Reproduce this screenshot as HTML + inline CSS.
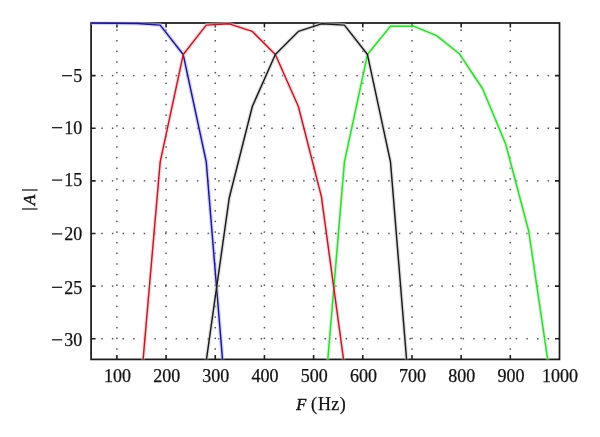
<!DOCTYPE html>
<html><head><meta charset="utf-8"><style>
html,body{margin:0;padding:0;background:#fff;}
svg{display:block;will-change:transform;}
text{font-family:"Liberation Serif",serif;font-size:18px;fill:#111;stroke:#111;stroke-width:0.25px;}
</style></head><body>
<svg width="600" height="437" viewBox="0 0 600 437">
<rect width="600" height="437" fill="#fff"/>
<g fill="#555"><rect x="116.15" y="348.22" width="1.5" height="1.5"/><rect x="116.15" y="337.59" width="1.5" height="1.5"/><rect x="116.15" y="326.97" width="1.5" height="1.5"/><rect x="116.15" y="316.34" width="1.5" height="1.5"/><rect x="116.15" y="305.71" width="1.5" height="1.5"/><rect x="116.15" y="295.08" width="1.5" height="1.5"/><rect x="116.15" y="284.45" width="1.5" height="1.5"/><rect x="116.15" y="273.83" width="1.5" height="1.5"/><rect x="116.15" y="263.20" width="1.5" height="1.5"/><rect x="116.15" y="252.57" width="1.5" height="1.5"/><rect x="116.15" y="241.94" width="1.5" height="1.5"/><rect x="116.15" y="231.31" width="1.5" height="1.5"/><rect x="116.15" y="220.69" width="1.5" height="1.5"/><rect x="116.15" y="210.06" width="1.5" height="1.5"/><rect x="116.15" y="199.43" width="1.5" height="1.5"/><rect x="116.15" y="188.80" width="1.5" height="1.5"/><rect x="116.15" y="178.17" width="1.5" height="1.5"/><rect x="116.15" y="167.55" width="1.5" height="1.5"/><rect x="116.15" y="156.92" width="1.5" height="1.5"/><rect x="116.15" y="146.29" width="1.5" height="1.5"/><rect x="116.15" y="135.66" width="1.5" height="1.5"/><rect x="116.15" y="125.03" width="1.5" height="1.5"/><rect x="116.15" y="114.41" width="1.5" height="1.5"/><rect x="116.15" y="103.78" width="1.5" height="1.5"/><rect x="116.15" y="93.15" width="1.5" height="1.5"/><rect x="116.15" y="82.52" width="1.5" height="1.5"/><rect x="116.15" y="71.89" width="1.5" height="1.5"/><rect x="116.15" y="61.27" width="1.5" height="1.5"/><rect x="116.15" y="50.64" width="1.5" height="1.5"/><rect x="116.15" y="40.01" width="1.5" height="1.5"/><rect x="116.15" y="29.38" width="1.5" height="1.5"/><rect x="165.33" y="348.22" width="1.5" height="1.5"/><rect x="165.33" y="337.59" width="1.5" height="1.5"/><rect x="165.33" y="326.97" width="1.5" height="1.5"/><rect x="165.33" y="316.34" width="1.5" height="1.5"/><rect x="165.33" y="305.71" width="1.5" height="1.5"/><rect x="165.33" y="295.08" width="1.5" height="1.5"/><rect x="165.33" y="284.45" width="1.5" height="1.5"/><rect x="165.33" y="273.83" width="1.5" height="1.5"/><rect x="165.33" y="263.20" width="1.5" height="1.5"/><rect x="165.33" y="252.57" width="1.5" height="1.5"/><rect x="165.33" y="241.94" width="1.5" height="1.5"/><rect x="165.33" y="231.31" width="1.5" height="1.5"/><rect x="165.33" y="220.69" width="1.5" height="1.5"/><rect x="165.33" y="210.06" width="1.5" height="1.5"/><rect x="165.33" y="199.43" width="1.5" height="1.5"/><rect x="165.33" y="188.80" width="1.5" height="1.5"/><rect x="165.33" y="178.17" width="1.5" height="1.5"/><rect x="165.33" y="167.55" width="1.5" height="1.5"/><rect x="165.33" y="156.92" width="1.5" height="1.5"/><rect x="165.33" y="146.29" width="1.5" height="1.5"/><rect x="165.33" y="135.66" width="1.5" height="1.5"/><rect x="165.33" y="125.03" width="1.5" height="1.5"/><rect x="165.33" y="114.41" width="1.5" height="1.5"/><rect x="165.33" y="103.78" width="1.5" height="1.5"/><rect x="165.33" y="93.15" width="1.5" height="1.5"/><rect x="165.33" y="82.52" width="1.5" height="1.5"/><rect x="165.33" y="71.89" width="1.5" height="1.5"/><rect x="165.33" y="61.27" width="1.5" height="1.5"/><rect x="165.33" y="50.64" width="1.5" height="1.5"/><rect x="165.33" y="40.01" width="1.5" height="1.5"/><rect x="165.33" y="29.38" width="1.5" height="1.5"/><rect x="214.51" y="348.22" width="1.5" height="1.5"/><rect x="214.51" y="337.59" width="1.5" height="1.5"/><rect x="214.51" y="326.97" width="1.5" height="1.5"/><rect x="214.51" y="316.34" width="1.5" height="1.5"/><rect x="214.51" y="305.71" width="1.5" height="1.5"/><rect x="214.51" y="295.08" width="1.5" height="1.5"/><rect x="214.51" y="284.45" width="1.5" height="1.5"/><rect x="214.51" y="273.83" width="1.5" height="1.5"/><rect x="214.51" y="263.20" width="1.5" height="1.5"/><rect x="214.51" y="252.57" width="1.5" height="1.5"/><rect x="214.51" y="241.94" width="1.5" height="1.5"/><rect x="214.51" y="231.31" width="1.5" height="1.5"/><rect x="214.51" y="220.69" width="1.5" height="1.5"/><rect x="214.51" y="210.06" width="1.5" height="1.5"/><rect x="214.51" y="199.43" width="1.5" height="1.5"/><rect x="214.51" y="188.80" width="1.5" height="1.5"/><rect x="214.51" y="178.17" width="1.5" height="1.5"/><rect x="214.51" y="167.55" width="1.5" height="1.5"/><rect x="214.51" y="156.92" width="1.5" height="1.5"/><rect x="214.51" y="146.29" width="1.5" height="1.5"/><rect x="214.51" y="135.66" width="1.5" height="1.5"/><rect x="214.51" y="125.03" width="1.5" height="1.5"/><rect x="214.51" y="114.41" width="1.5" height="1.5"/><rect x="214.51" y="103.78" width="1.5" height="1.5"/><rect x="214.51" y="93.15" width="1.5" height="1.5"/><rect x="214.51" y="82.52" width="1.5" height="1.5"/><rect x="214.51" y="71.89" width="1.5" height="1.5"/><rect x="214.51" y="61.27" width="1.5" height="1.5"/><rect x="214.51" y="50.64" width="1.5" height="1.5"/><rect x="214.51" y="40.01" width="1.5" height="1.5"/><rect x="214.51" y="29.38" width="1.5" height="1.5"/><rect x="263.68" y="348.22" width="1.5" height="1.5"/><rect x="263.68" y="337.59" width="1.5" height="1.5"/><rect x="263.68" y="326.97" width="1.5" height="1.5"/><rect x="263.68" y="316.34" width="1.5" height="1.5"/><rect x="263.68" y="305.71" width="1.5" height="1.5"/><rect x="263.68" y="295.08" width="1.5" height="1.5"/><rect x="263.68" y="284.45" width="1.5" height="1.5"/><rect x="263.68" y="273.83" width="1.5" height="1.5"/><rect x="263.68" y="263.20" width="1.5" height="1.5"/><rect x="263.68" y="252.57" width="1.5" height="1.5"/><rect x="263.68" y="241.94" width="1.5" height="1.5"/><rect x="263.68" y="231.31" width="1.5" height="1.5"/><rect x="263.68" y="220.69" width="1.5" height="1.5"/><rect x="263.68" y="210.06" width="1.5" height="1.5"/><rect x="263.68" y="199.43" width="1.5" height="1.5"/><rect x="263.68" y="188.80" width="1.5" height="1.5"/><rect x="263.68" y="178.17" width="1.5" height="1.5"/><rect x="263.68" y="167.55" width="1.5" height="1.5"/><rect x="263.68" y="156.92" width="1.5" height="1.5"/><rect x="263.68" y="146.29" width="1.5" height="1.5"/><rect x="263.68" y="135.66" width="1.5" height="1.5"/><rect x="263.68" y="125.03" width="1.5" height="1.5"/><rect x="263.68" y="114.41" width="1.5" height="1.5"/><rect x="263.68" y="103.78" width="1.5" height="1.5"/><rect x="263.68" y="93.15" width="1.5" height="1.5"/><rect x="263.68" y="82.52" width="1.5" height="1.5"/><rect x="263.68" y="71.89" width="1.5" height="1.5"/><rect x="263.68" y="61.27" width="1.5" height="1.5"/><rect x="263.68" y="50.64" width="1.5" height="1.5"/><rect x="263.68" y="40.01" width="1.5" height="1.5"/><rect x="263.68" y="29.38" width="1.5" height="1.5"/><rect x="312.86" y="348.22" width="1.5" height="1.5"/><rect x="312.86" y="337.59" width="1.5" height="1.5"/><rect x="312.86" y="326.97" width="1.5" height="1.5"/><rect x="312.86" y="316.34" width="1.5" height="1.5"/><rect x="312.86" y="305.71" width="1.5" height="1.5"/><rect x="312.86" y="295.08" width="1.5" height="1.5"/><rect x="312.86" y="284.45" width="1.5" height="1.5"/><rect x="312.86" y="273.83" width="1.5" height="1.5"/><rect x="312.86" y="263.20" width="1.5" height="1.5"/><rect x="312.86" y="252.57" width="1.5" height="1.5"/><rect x="312.86" y="241.94" width="1.5" height="1.5"/><rect x="312.86" y="231.31" width="1.5" height="1.5"/><rect x="312.86" y="220.69" width="1.5" height="1.5"/><rect x="312.86" y="210.06" width="1.5" height="1.5"/><rect x="312.86" y="199.43" width="1.5" height="1.5"/><rect x="312.86" y="188.80" width="1.5" height="1.5"/><rect x="312.86" y="178.17" width="1.5" height="1.5"/><rect x="312.86" y="167.55" width="1.5" height="1.5"/><rect x="312.86" y="156.92" width="1.5" height="1.5"/><rect x="312.86" y="146.29" width="1.5" height="1.5"/><rect x="312.86" y="135.66" width="1.5" height="1.5"/><rect x="312.86" y="125.03" width="1.5" height="1.5"/><rect x="312.86" y="114.41" width="1.5" height="1.5"/><rect x="312.86" y="103.78" width="1.5" height="1.5"/><rect x="312.86" y="93.15" width="1.5" height="1.5"/><rect x="312.86" y="82.52" width="1.5" height="1.5"/><rect x="312.86" y="71.89" width="1.5" height="1.5"/><rect x="312.86" y="61.27" width="1.5" height="1.5"/><rect x="312.86" y="50.64" width="1.5" height="1.5"/><rect x="312.86" y="40.01" width="1.5" height="1.5"/><rect x="312.86" y="29.38" width="1.5" height="1.5"/><rect x="362.04" y="348.22" width="1.5" height="1.5"/><rect x="362.04" y="337.59" width="1.5" height="1.5"/><rect x="362.04" y="326.97" width="1.5" height="1.5"/><rect x="362.04" y="316.34" width="1.5" height="1.5"/><rect x="362.04" y="305.71" width="1.5" height="1.5"/><rect x="362.04" y="295.08" width="1.5" height="1.5"/><rect x="362.04" y="284.45" width="1.5" height="1.5"/><rect x="362.04" y="273.83" width="1.5" height="1.5"/><rect x="362.04" y="263.20" width="1.5" height="1.5"/><rect x="362.04" y="252.57" width="1.5" height="1.5"/><rect x="362.04" y="241.94" width="1.5" height="1.5"/><rect x="362.04" y="231.31" width="1.5" height="1.5"/><rect x="362.04" y="220.69" width="1.5" height="1.5"/><rect x="362.04" y="210.06" width="1.5" height="1.5"/><rect x="362.04" y="199.43" width="1.5" height="1.5"/><rect x="362.04" y="188.80" width="1.5" height="1.5"/><rect x="362.04" y="178.17" width="1.5" height="1.5"/><rect x="362.04" y="167.55" width="1.5" height="1.5"/><rect x="362.04" y="156.92" width="1.5" height="1.5"/><rect x="362.04" y="146.29" width="1.5" height="1.5"/><rect x="362.04" y="135.66" width="1.5" height="1.5"/><rect x="362.04" y="125.03" width="1.5" height="1.5"/><rect x="362.04" y="114.41" width="1.5" height="1.5"/><rect x="362.04" y="103.78" width="1.5" height="1.5"/><rect x="362.04" y="93.15" width="1.5" height="1.5"/><rect x="362.04" y="82.52" width="1.5" height="1.5"/><rect x="362.04" y="71.89" width="1.5" height="1.5"/><rect x="362.04" y="61.27" width="1.5" height="1.5"/><rect x="362.04" y="50.64" width="1.5" height="1.5"/><rect x="362.04" y="40.01" width="1.5" height="1.5"/><rect x="362.04" y="29.38" width="1.5" height="1.5"/><rect x="411.22" y="348.22" width="1.5" height="1.5"/><rect x="411.22" y="337.59" width="1.5" height="1.5"/><rect x="411.22" y="326.97" width="1.5" height="1.5"/><rect x="411.22" y="316.34" width="1.5" height="1.5"/><rect x="411.22" y="305.71" width="1.5" height="1.5"/><rect x="411.22" y="295.08" width="1.5" height="1.5"/><rect x="411.22" y="284.45" width="1.5" height="1.5"/><rect x="411.22" y="273.83" width="1.5" height="1.5"/><rect x="411.22" y="263.20" width="1.5" height="1.5"/><rect x="411.22" y="252.57" width="1.5" height="1.5"/><rect x="411.22" y="241.94" width="1.5" height="1.5"/><rect x="411.22" y="231.31" width="1.5" height="1.5"/><rect x="411.22" y="220.69" width="1.5" height="1.5"/><rect x="411.22" y="210.06" width="1.5" height="1.5"/><rect x="411.22" y="199.43" width="1.5" height="1.5"/><rect x="411.22" y="188.80" width="1.5" height="1.5"/><rect x="411.22" y="178.17" width="1.5" height="1.5"/><rect x="411.22" y="167.55" width="1.5" height="1.5"/><rect x="411.22" y="156.92" width="1.5" height="1.5"/><rect x="411.22" y="146.29" width="1.5" height="1.5"/><rect x="411.22" y="135.66" width="1.5" height="1.5"/><rect x="411.22" y="125.03" width="1.5" height="1.5"/><rect x="411.22" y="114.41" width="1.5" height="1.5"/><rect x="411.22" y="103.78" width="1.5" height="1.5"/><rect x="411.22" y="93.15" width="1.5" height="1.5"/><rect x="411.22" y="82.52" width="1.5" height="1.5"/><rect x="411.22" y="71.89" width="1.5" height="1.5"/><rect x="411.22" y="61.27" width="1.5" height="1.5"/><rect x="411.22" y="50.64" width="1.5" height="1.5"/><rect x="411.22" y="40.01" width="1.5" height="1.5"/><rect x="411.22" y="29.38" width="1.5" height="1.5"/><rect x="460.39" y="348.22" width="1.5" height="1.5"/><rect x="460.39" y="337.59" width="1.5" height="1.5"/><rect x="460.39" y="326.97" width="1.5" height="1.5"/><rect x="460.39" y="316.34" width="1.5" height="1.5"/><rect x="460.39" y="305.71" width="1.5" height="1.5"/><rect x="460.39" y="295.08" width="1.5" height="1.5"/><rect x="460.39" y="284.45" width="1.5" height="1.5"/><rect x="460.39" y="273.83" width="1.5" height="1.5"/><rect x="460.39" y="263.20" width="1.5" height="1.5"/><rect x="460.39" y="252.57" width="1.5" height="1.5"/><rect x="460.39" y="241.94" width="1.5" height="1.5"/><rect x="460.39" y="231.31" width="1.5" height="1.5"/><rect x="460.39" y="220.69" width="1.5" height="1.5"/><rect x="460.39" y="210.06" width="1.5" height="1.5"/><rect x="460.39" y="199.43" width="1.5" height="1.5"/><rect x="460.39" y="188.80" width="1.5" height="1.5"/><rect x="460.39" y="178.17" width="1.5" height="1.5"/><rect x="460.39" y="167.55" width="1.5" height="1.5"/><rect x="460.39" y="156.92" width="1.5" height="1.5"/><rect x="460.39" y="146.29" width="1.5" height="1.5"/><rect x="460.39" y="135.66" width="1.5" height="1.5"/><rect x="460.39" y="125.03" width="1.5" height="1.5"/><rect x="460.39" y="114.41" width="1.5" height="1.5"/><rect x="460.39" y="103.78" width="1.5" height="1.5"/><rect x="460.39" y="93.15" width="1.5" height="1.5"/><rect x="460.39" y="82.52" width="1.5" height="1.5"/><rect x="460.39" y="71.89" width="1.5" height="1.5"/><rect x="460.39" y="61.27" width="1.5" height="1.5"/><rect x="460.39" y="50.64" width="1.5" height="1.5"/><rect x="460.39" y="40.01" width="1.5" height="1.5"/><rect x="460.39" y="29.38" width="1.5" height="1.5"/><rect x="509.57" y="348.22" width="1.5" height="1.5"/><rect x="509.57" y="337.59" width="1.5" height="1.5"/><rect x="509.57" y="326.97" width="1.5" height="1.5"/><rect x="509.57" y="316.34" width="1.5" height="1.5"/><rect x="509.57" y="305.71" width="1.5" height="1.5"/><rect x="509.57" y="295.08" width="1.5" height="1.5"/><rect x="509.57" y="284.45" width="1.5" height="1.5"/><rect x="509.57" y="273.83" width="1.5" height="1.5"/><rect x="509.57" y="263.20" width="1.5" height="1.5"/><rect x="509.57" y="252.57" width="1.5" height="1.5"/><rect x="509.57" y="241.94" width="1.5" height="1.5"/><rect x="509.57" y="231.31" width="1.5" height="1.5"/><rect x="509.57" y="220.69" width="1.5" height="1.5"/><rect x="509.57" y="210.06" width="1.5" height="1.5"/><rect x="509.57" y="199.43" width="1.5" height="1.5"/><rect x="509.57" y="188.80" width="1.5" height="1.5"/><rect x="509.57" y="178.17" width="1.5" height="1.5"/><rect x="509.57" y="167.55" width="1.5" height="1.5"/><rect x="509.57" y="156.92" width="1.5" height="1.5"/><rect x="509.57" y="146.29" width="1.5" height="1.5"/><rect x="509.57" y="135.66" width="1.5" height="1.5"/><rect x="509.57" y="125.03" width="1.5" height="1.5"/><rect x="509.57" y="114.41" width="1.5" height="1.5"/><rect x="509.57" y="103.78" width="1.5" height="1.5"/><rect x="509.57" y="93.15" width="1.5" height="1.5"/><rect x="509.57" y="82.52" width="1.5" height="1.5"/><rect x="509.57" y="71.89" width="1.5" height="1.5"/><rect x="509.57" y="61.27" width="1.5" height="1.5"/><rect x="509.57" y="50.64" width="1.5" height="1.5"/><rect x="509.57" y="40.01" width="1.5" height="1.5"/><rect x="509.57" y="29.38" width="1.5" height="1.5"/><rect x="101.23" y="74.87" width="1.5" height="1.5"/><rect x="111.86" y="74.87" width="1.5" height="1.5"/><rect x="122.48" y="74.87" width="1.5" height="1.5"/><rect x="133.11" y="74.87" width="1.5" height="1.5"/><rect x="143.74" y="74.87" width="1.5" height="1.5"/><rect x="154.37" y="74.87" width="1.5" height="1.5"/><rect x="165.00" y="74.87" width="1.5" height="1.5"/><rect x="175.62" y="74.87" width="1.5" height="1.5"/><rect x="186.25" y="74.87" width="1.5" height="1.5"/><rect x="196.88" y="74.87" width="1.5" height="1.5"/><rect x="207.51" y="74.87" width="1.5" height="1.5"/><rect x="218.14" y="74.87" width="1.5" height="1.5"/><rect x="228.76" y="74.87" width="1.5" height="1.5"/><rect x="239.39" y="74.87" width="1.5" height="1.5"/><rect x="250.02" y="74.87" width="1.5" height="1.5"/><rect x="260.65" y="74.87" width="1.5" height="1.5"/><rect x="271.28" y="74.87" width="1.5" height="1.5"/><rect x="281.90" y="74.87" width="1.5" height="1.5"/><rect x="292.53" y="74.87" width="1.5" height="1.5"/><rect x="303.16" y="74.87" width="1.5" height="1.5"/><rect x="313.79" y="74.87" width="1.5" height="1.5"/><rect x="324.42" y="74.87" width="1.5" height="1.5"/><rect x="335.04" y="74.87" width="1.5" height="1.5"/><rect x="345.67" y="74.87" width="1.5" height="1.5"/><rect x="356.30" y="74.87" width="1.5" height="1.5"/><rect x="366.93" y="74.87" width="1.5" height="1.5"/><rect x="377.56" y="74.87" width="1.5" height="1.5"/><rect x="388.18" y="74.87" width="1.5" height="1.5"/><rect x="398.81" y="74.87" width="1.5" height="1.5"/><rect x="409.44" y="74.87" width="1.5" height="1.5"/><rect x="420.07" y="74.87" width="1.5" height="1.5"/><rect x="430.70" y="74.87" width="1.5" height="1.5"/><rect x="441.32" y="74.87" width="1.5" height="1.5"/><rect x="451.95" y="74.87" width="1.5" height="1.5"/><rect x="462.58" y="74.87" width="1.5" height="1.5"/><rect x="473.21" y="74.87" width="1.5" height="1.5"/><rect x="483.84" y="74.87" width="1.5" height="1.5"/><rect x="494.46" y="74.87" width="1.5" height="1.5"/><rect x="505.09" y="74.87" width="1.5" height="1.5"/><rect x="515.72" y="74.87" width="1.5" height="1.5"/><rect x="526.35" y="74.87" width="1.5" height="1.5"/><rect x="536.98" y="74.87" width="1.5" height="1.5"/><rect x="547.60" y="74.87" width="1.5" height="1.5"/><rect x="101.23" y="127.49" width="1.5" height="1.5"/><rect x="111.86" y="127.49" width="1.5" height="1.5"/><rect x="122.48" y="127.49" width="1.5" height="1.5"/><rect x="133.11" y="127.49" width="1.5" height="1.5"/><rect x="143.74" y="127.49" width="1.5" height="1.5"/><rect x="154.37" y="127.49" width="1.5" height="1.5"/><rect x="165.00" y="127.49" width="1.5" height="1.5"/><rect x="175.62" y="127.49" width="1.5" height="1.5"/><rect x="186.25" y="127.49" width="1.5" height="1.5"/><rect x="196.88" y="127.49" width="1.5" height="1.5"/><rect x="207.51" y="127.49" width="1.5" height="1.5"/><rect x="218.14" y="127.49" width="1.5" height="1.5"/><rect x="228.76" y="127.49" width="1.5" height="1.5"/><rect x="239.39" y="127.49" width="1.5" height="1.5"/><rect x="250.02" y="127.49" width="1.5" height="1.5"/><rect x="260.65" y="127.49" width="1.5" height="1.5"/><rect x="271.28" y="127.49" width="1.5" height="1.5"/><rect x="281.90" y="127.49" width="1.5" height="1.5"/><rect x="292.53" y="127.49" width="1.5" height="1.5"/><rect x="303.16" y="127.49" width="1.5" height="1.5"/><rect x="313.79" y="127.49" width="1.5" height="1.5"/><rect x="324.42" y="127.49" width="1.5" height="1.5"/><rect x="335.04" y="127.49" width="1.5" height="1.5"/><rect x="345.67" y="127.49" width="1.5" height="1.5"/><rect x="356.30" y="127.49" width="1.5" height="1.5"/><rect x="366.93" y="127.49" width="1.5" height="1.5"/><rect x="377.56" y="127.49" width="1.5" height="1.5"/><rect x="388.18" y="127.49" width="1.5" height="1.5"/><rect x="398.81" y="127.49" width="1.5" height="1.5"/><rect x="409.44" y="127.49" width="1.5" height="1.5"/><rect x="420.07" y="127.49" width="1.5" height="1.5"/><rect x="430.70" y="127.49" width="1.5" height="1.5"/><rect x="441.32" y="127.49" width="1.5" height="1.5"/><rect x="451.95" y="127.49" width="1.5" height="1.5"/><rect x="462.58" y="127.49" width="1.5" height="1.5"/><rect x="473.21" y="127.49" width="1.5" height="1.5"/><rect x="483.84" y="127.49" width="1.5" height="1.5"/><rect x="494.46" y="127.49" width="1.5" height="1.5"/><rect x="505.09" y="127.49" width="1.5" height="1.5"/><rect x="515.72" y="127.49" width="1.5" height="1.5"/><rect x="526.35" y="127.49" width="1.5" height="1.5"/><rect x="536.98" y="127.49" width="1.5" height="1.5"/><rect x="547.60" y="127.49" width="1.5" height="1.5"/><rect x="101.23" y="180.11" width="1.5" height="1.5"/><rect x="111.86" y="180.11" width="1.5" height="1.5"/><rect x="122.48" y="180.11" width="1.5" height="1.5"/><rect x="133.11" y="180.11" width="1.5" height="1.5"/><rect x="143.74" y="180.11" width="1.5" height="1.5"/><rect x="154.37" y="180.11" width="1.5" height="1.5"/><rect x="165.00" y="180.11" width="1.5" height="1.5"/><rect x="175.62" y="180.11" width="1.5" height="1.5"/><rect x="186.25" y="180.11" width="1.5" height="1.5"/><rect x="196.88" y="180.11" width="1.5" height="1.5"/><rect x="207.51" y="180.11" width="1.5" height="1.5"/><rect x="218.14" y="180.11" width="1.5" height="1.5"/><rect x="228.76" y="180.11" width="1.5" height="1.5"/><rect x="239.39" y="180.11" width="1.5" height="1.5"/><rect x="250.02" y="180.11" width="1.5" height="1.5"/><rect x="260.65" y="180.11" width="1.5" height="1.5"/><rect x="271.28" y="180.11" width="1.5" height="1.5"/><rect x="281.90" y="180.11" width="1.5" height="1.5"/><rect x="292.53" y="180.11" width="1.5" height="1.5"/><rect x="303.16" y="180.11" width="1.5" height="1.5"/><rect x="313.79" y="180.11" width="1.5" height="1.5"/><rect x="324.42" y="180.11" width="1.5" height="1.5"/><rect x="335.04" y="180.11" width="1.5" height="1.5"/><rect x="345.67" y="180.11" width="1.5" height="1.5"/><rect x="356.30" y="180.11" width="1.5" height="1.5"/><rect x="366.93" y="180.11" width="1.5" height="1.5"/><rect x="377.56" y="180.11" width="1.5" height="1.5"/><rect x="388.18" y="180.11" width="1.5" height="1.5"/><rect x="398.81" y="180.11" width="1.5" height="1.5"/><rect x="409.44" y="180.11" width="1.5" height="1.5"/><rect x="420.07" y="180.11" width="1.5" height="1.5"/><rect x="430.70" y="180.11" width="1.5" height="1.5"/><rect x="441.32" y="180.11" width="1.5" height="1.5"/><rect x="451.95" y="180.11" width="1.5" height="1.5"/><rect x="462.58" y="180.11" width="1.5" height="1.5"/><rect x="473.21" y="180.11" width="1.5" height="1.5"/><rect x="483.84" y="180.11" width="1.5" height="1.5"/><rect x="494.46" y="180.11" width="1.5" height="1.5"/><rect x="505.09" y="180.11" width="1.5" height="1.5"/><rect x="515.72" y="180.11" width="1.5" height="1.5"/><rect x="526.35" y="180.11" width="1.5" height="1.5"/><rect x="536.98" y="180.11" width="1.5" height="1.5"/><rect x="547.60" y="180.11" width="1.5" height="1.5"/><rect x="101.23" y="232.73" width="1.5" height="1.5"/><rect x="111.86" y="232.73" width="1.5" height="1.5"/><rect x="122.48" y="232.73" width="1.5" height="1.5"/><rect x="133.11" y="232.73" width="1.5" height="1.5"/><rect x="143.74" y="232.73" width="1.5" height="1.5"/><rect x="154.37" y="232.73" width="1.5" height="1.5"/><rect x="165.00" y="232.73" width="1.5" height="1.5"/><rect x="175.62" y="232.73" width="1.5" height="1.5"/><rect x="186.25" y="232.73" width="1.5" height="1.5"/><rect x="196.88" y="232.73" width="1.5" height="1.5"/><rect x="207.51" y="232.73" width="1.5" height="1.5"/><rect x="218.14" y="232.73" width="1.5" height="1.5"/><rect x="228.76" y="232.73" width="1.5" height="1.5"/><rect x="239.39" y="232.73" width="1.5" height="1.5"/><rect x="250.02" y="232.73" width="1.5" height="1.5"/><rect x="260.65" y="232.73" width="1.5" height="1.5"/><rect x="271.28" y="232.73" width="1.5" height="1.5"/><rect x="281.90" y="232.73" width="1.5" height="1.5"/><rect x="292.53" y="232.73" width="1.5" height="1.5"/><rect x="303.16" y="232.73" width="1.5" height="1.5"/><rect x="313.79" y="232.73" width="1.5" height="1.5"/><rect x="324.42" y="232.73" width="1.5" height="1.5"/><rect x="335.04" y="232.73" width="1.5" height="1.5"/><rect x="345.67" y="232.73" width="1.5" height="1.5"/><rect x="356.30" y="232.73" width="1.5" height="1.5"/><rect x="366.93" y="232.73" width="1.5" height="1.5"/><rect x="377.56" y="232.73" width="1.5" height="1.5"/><rect x="388.18" y="232.73" width="1.5" height="1.5"/><rect x="398.81" y="232.73" width="1.5" height="1.5"/><rect x="409.44" y="232.73" width="1.5" height="1.5"/><rect x="420.07" y="232.73" width="1.5" height="1.5"/><rect x="430.70" y="232.73" width="1.5" height="1.5"/><rect x="441.32" y="232.73" width="1.5" height="1.5"/><rect x="451.95" y="232.73" width="1.5" height="1.5"/><rect x="462.58" y="232.73" width="1.5" height="1.5"/><rect x="473.21" y="232.73" width="1.5" height="1.5"/><rect x="483.84" y="232.73" width="1.5" height="1.5"/><rect x="494.46" y="232.73" width="1.5" height="1.5"/><rect x="505.09" y="232.73" width="1.5" height="1.5"/><rect x="515.72" y="232.73" width="1.5" height="1.5"/><rect x="526.35" y="232.73" width="1.5" height="1.5"/><rect x="536.98" y="232.73" width="1.5" height="1.5"/><rect x="547.60" y="232.73" width="1.5" height="1.5"/><rect x="101.23" y="285.35" width="1.5" height="1.5"/><rect x="111.86" y="285.35" width="1.5" height="1.5"/><rect x="122.48" y="285.35" width="1.5" height="1.5"/><rect x="133.11" y="285.35" width="1.5" height="1.5"/><rect x="143.74" y="285.35" width="1.5" height="1.5"/><rect x="154.37" y="285.35" width="1.5" height="1.5"/><rect x="165.00" y="285.35" width="1.5" height="1.5"/><rect x="175.62" y="285.35" width="1.5" height="1.5"/><rect x="186.25" y="285.35" width="1.5" height="1.5"/><rect x="196.88" y="285.35" width="1.5" height="1.5"/><rect x="207.51" y="285.35" width="1.5" height="1.5"/><rect x="218.14" y="285.35" width="1.5" height="1.5"/><rect x="228.76" y="285.35" width="1.5" height="1.5"/><rect x="239.39" y="285.35" width="1.5" height="1.5"/><rect x="250.02" y="285.35" width="1.5" height="1.5"/><rect x="260.65" y="285.35" width="1.5" height="1.5"/><rect x="271.28" y="285.35" width="1.5" height="1.5"/><rect x="281.90" y="285.35" width="1.5" height="1.5"/><rect x="292.53" y="285.35" width="1.5" height="1.5"/><rect x="303.16" y="285.35" width="1.5" height="1.5"/><rect x="313.79" y="285.35" width="1.5" height="1.5"/><rect x="324.42" y="285.35" width="1.5" height="1.5"/><rect x="335.04" y="285.35" width="1.5" height="1.5"/><rect x="345.67" y="285.35" width="1.5" height="1.5"/><rect x="356.30" y="285.35" width="1.5" height="1.5"/><rect x="366.93" y="285.35" width="1.5" height="1.5"/><rect x="377.56" y="285.35" width="1.5" height="1.5"/><rect x="388.18" y="285.35" width="1.5" height="1.5"/><rect x="398.81" y="285.35" width="1.5" height="1.5"/><rect x="409.44" y="285.35" width="1.5" height="1.5"/><rect x="420.07" y="285.35" width="1.5" height="1.5"/><rect x="430.70" y="285.35" width="1.5" height="1.5"/><rect x="441.32" y="285.35" width="1.5" height="1.5"/><rect x="451.95" y="285.35" width="1.5" height="1.5"/><rect x="462.58" y="285.35" width="1.5" height="1.5"/><rect x="473.21" y="285.35" width="1.5" height="1.5"/><rect x="483.84" y="285.35" width="1.5" height="1.5"/><rect x="494.46" y="285.35" width="1.5" height="1.5"/><rect x="505.09" y="285.35" width="1.5" height="1.5"/><rect x="515.72" y="285.35" width="1.5" height="1.5"/><rect x="526.35" y="285.35" width="1.5" height="1.5"/><rect x="536.98" y="285.35" width="1.5" height="1.5"/><rect x="547.60" y="285.35" width="1.5" height="1.5"/><rect x="101.23" y="337.97" width="1.5" height="1.5"/><rect x="111.86" y="337.97" width="1.5" height="1.5"/><rect x="122.48" y="337.97" width="1.5" height="1.5"/><rect x="133.11" y="337.97" width="1.5" height="1.5"/><rect x="143.74" y="337.97" width="1.5" height="1.5"/><rect x="154.37" y="337.97" width="1.5" height="1.5"/><rect x="165.00" y="337.97" width="1.5" height="1.5"/><rect x="175.62" y="337.97" width="1.5" height="1.5"/><rect x="186.25" y="337.97" width="1.5" height="1.5"/><rect x="196.88" y="337.97" width="1.5" height="1.5"/><rect x="207.51" y="337.97" width="1.5" height="1.5"/><rect x="218.14" y="337.97" width="1.5" height="1.5"/><rect x="228.76" y="337.97" width="1.5" height="1.5"/><rect x="239.39" y="337.97" width="1.5" height="1.5"/><rect x="250.02" y="337.97" width="1.5" height="1.5"/><rect x="260.65" y="337.97" width="1.5" height="1.5"/><rect x="271.28" y="337.97" width="1.5" height="1.5"/><rect x="281.90" y="337.97" width="1.5" height="1.5"/><rect x="292.53" y="337.97" width="1.5" height="1.5"/><rect x="303.16" y="337.97" width="1.5" height="1.5"/><rect x="313.79" y="337.97" width="1.5" height="1.5"/><rect x="324.42" y="337.97" width="1.5" height="1.5"/><rect x="335.04" y="337.97" width="1.5" height="1.5"/><rect x="345.67" y="337.97" width="1.5" height="1.5"/><rect x="356.30" y="337.97" width="1.5" height="1.5"/><rect x="366.93" y="337.97" width="1.5" height="1.5"/><rect x="377.56" y="337.97" width="1.5" height="1.5"/><rect x="388.18" y="337.97" width="1.5" height="1.5"/><rect x="398.81" y="337.97" width="1.5" height="1.5"/><rect x="409.44" y="337.97" width="1.5" height="1.5"/><rect x="420.07" y="337.97" width="1.5" height="1.5"/><rect x="430.70" y="337.97" width="1.5" height="1.5"/><rect x="441.32" y="337.97" width="1.5" height="1.5"/><rect x="451.95" y="337.97" width="1.5" height="1.5"/><rect x="462.58" y="337.97" width="1.5" height="1.5"/><rect x="473.21" y="337.97" width="1.5" height="1.5"/><rect x="483.84" y="337.97" width="1.5" height="1.5"/><rect x="494.46" y="337.97" width="1.5" height="1.5"/><rect x="505.09" y="337.97" width="1.5" height="1.5"/><rect x="515.72" y="337.97" width="1.5" height="1.5"/><rect x="526.35" y="337.97" width="1.5" height="1.5"/><rect x="536.98" y="337.97" width="1.5" height="1.5"/><rect x="547.60" y="337.97" width="1.5" height="1.5"/></g>
<path d="M116.90,359.40V354.90M116.90,23.00V27.50M166.08,359.40V354.90M166.08,23.00V27.50M215.26,359.40V354.90M215.26,23.00V27.50M264.43,359.40V354.90M264.43,23.00V27.50M313.61,359.40V354.90M313.61,23.00V27.50M362.79,359.40V354.90M362.79,23.00V27.50M411.97,359.40V354.90M411.97,23.00V27.50M461.14,359.40V354.90M461.14,23.00V27.50M510.32,359.40V354.90M510.32,23.00V27.50M91.10,75.62H95.60M559.50,75.62H555.00M91.10,128.24H95.60M559.50,128.24H555.00M91.10,180.86H95.60M559.50,180.86H555.00M91.10,233.48H95.60M559.50,233.48H555.00M91.10,286.10H95.60M559.50,286.10H555.00M91.10,338.72H95.60M559.50,338.72H555.00" stroke="#222" stroke-width="1.6" fill="none"/>
<rect x="91.1" y="23.0" width="468.4" height="336.4" fill="none" stroke="#1c1c1c" stroke-width="1.75"/>
<clipPath id="c"><rect x="91.1" y="21.5" width="468.4" height="337.9"/></clipPath>
<g clip-path="url(#c)" fill="none" stroke-linejoin="round" stroke-linecap="round">
<g stroke-width="4" opacity="0.55">
<path d="M321.40,435.54 L344.43,161.92 L367.46,54.57 L390.49,26.16 L413.52,26.16 L436.55,35.63 L459.58,54.05 L482.61,88.77 L505.64,144.03 L528.67,230.95 L551.70,386.81" stroke="#a8f4a8"/>
<path d="M91.10,23.00 L114.13,23.21 L137.16,23.42 L160.19,25.10 L183.22,54.57 L206.25,161.92 L229.28,441.86" stroke="#b0b0ff"/>
<path d="M137.16,428.17 L160.19,161.92 L183.22,54.57 L206.25,25.10 L229.28,23.84 L252.31,31.42 L275.34,54.57 L298.37,106.46 L321.40,196.65 L344.43,366.08" stroke="#ffb4b4"/>
<path d="M206.25,360.82 L229.28,197.70 L252.31,106.46 L275.34,54.57 L298.37,31.42 L321.40,23.84 L344.43,25.10 L367.46,54.57 L390.49,161.92 L413.52,445.01" stroke="#c8c8c8"/>
</g>
<g stroke-width="1.45">
<path d="M321.40,435.54 L344.43,161.92 L367.46,54.57 L390.49,26.16 L413.52,26.16 L436.55,35.63 L459.58,54.05 L482.61,88.77 L505.64,144.03 L528.67,230.95 L551.70,386.81" stroke="#42cc42"/>
<path d="M91.10,23.00 L114.13,23.21 L137.16,23.42 L160.19,25.10 L183.22,54.57 L206.25,161.92 L229.28,441.86" stroke="#201684"/>
<path d="M137.16,428.17 L160.19,161.92 L183.22,54.57 L206.25,25.10 L229.28,23.84 L252.31,31.42 L275.34,54.57 L298.37,106.46 L321.40,196.65 L344.43,366.08" stroke="#ac2030"/>
<path d="M206.25,360.82 L229.28,197.70 L252.31,106.46 L275.34,54.57 L298.37,31.42 L321.40,23.84 L344.43,25.10 L367.46,54.57 L390.49,161.92 L413.52,445.01" stroke="#1a1a1a"/>
</g>
</g>
<text x="117.50" y="382" text-anchor="middle">100</text><text x="166.68" y="382" text-anchor="middle">200</text><text x="215.86" y="382" text-anchor="middle">300</text><text x="265.03" y="382" text-anchor="middle">400</text><text x="314.21" y="382" text-anchor="middle">500</text><text x="363.39" y="382" text-anchor="middle">600</text><text x="412.57" y="382" text-anchor="middle">700</text><text x="461.74" y="382" text-anchor="middle">800</text><text x="510.92" y="382" text-anchor="middle">900</text><text x="560.10" y="382" text-anchor="middle">1000</text><text x="82.2" y="81.52" text-anchor="end">5</text><text x="82.2" y="134.14" text-anchor="end">10</text><text x="82.2" y="185.96" text-anchor="end">15</text><text x="82.2" y="240.18" text-anchor="end">20</text><text x="82.2" y="293.80" text-anchor="end">25</text><text x="82.2" y="345.52" text-anchor="end">30</text>
<g fill="#111"><rect x="62.0" y="75.10" width="10.00" height="1.2"/><rect x="52.0" y="127.10" width="10.20" height="1.2"/><rect x="52.0" y="179.50" width="10.20" height="1.2"/><rect x="52.0" y="233.30" width="10.20" height="1.2"/><rect x="52.0" y="286.70" width="10.20" height="1.2"/><rect x="52.0" y="339.20" width="10.20" height="1.2"/></g>
<text transform="translate(296.3,409.6) scale(0.91,0.95)" font-style="italic" style="stroke-width:0.5px">F</text><text y="409.5"><tspan x="311 317.98 331.3 339.8">(Hz)</tspan></text>
<text transform="translate(34.5,200.1) rotate(-90) scale(1.06,1)" text-anchor="middle" font-style="italic" style="font-size:16.3px;stroke-width:0.45px">A</text>
<g fill="#111"><rect x="22" y="189.4" width="15.6" height="1.2"/><rect x="22" y="208.4" width="15.6" height="1.2"/></g>
</svg>
</body></html>
